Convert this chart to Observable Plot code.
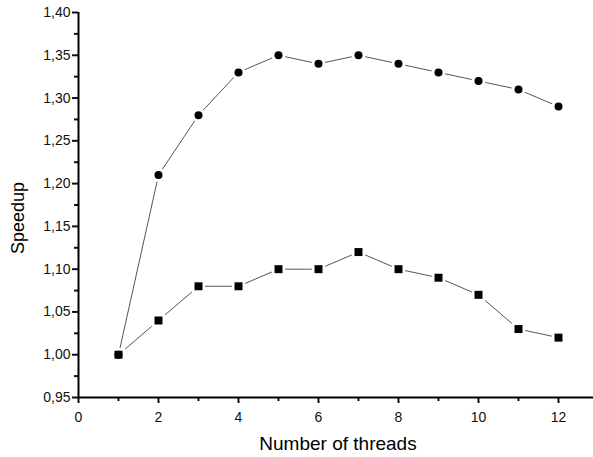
<!DOCTYPE html>
<html><head><meta charset="utf-8">
<script src="https://cdn.jsdelivr.net/npm/d3@7"></script>
<script src="https://cdn.jsdelivr.net/npm/@observablehq/plot@0.6"></script>
<style>body{margin:0;background:#fff}</style>
</head><body><div id="chart"></div>
<script>
const threads = [1,2,3,4,5,6,7,8,9,10,11,12];
const circleSeries = [1.00,1.21,1.28,1.33,1.35,1.34,1.35,1.34,1.33,1.32,1.31,1.29];
const squareSeries = [1.00,1.04,1.08,1.08,1.10,1.10,1.12,1.10,1.09,1.07,1.03,1.02];
const xMajor = [0,2,4,6,8,10,12];
const xMinor = [1,3,5,7,9,11];
const yMajor = [0.95,1.00,1.05,1.10,1.15,1.20,1.25,1.30,1.35,1.40];
const yMinor = [0.975,1.025,1.075,1.125,1.175,1.225,1.275,1.325,1.375];

const circ = threads.map((t,i)=>({x:t,y:circleSeries[i]}));
const sq = threads.map((t,i)=>({x:t,y:squareSeries[i]}));
const fmt = d => d.toFixed(2).replace(".", ",");

const chart = Plot.plot({
  width: 593, height: 457,
  marginLeft: 78, marginRight: 0, marginTop: 12, marginBottom: 60,
  style: {fontFamily: "Liberation Sans, Arial, sans-serif", fontSize: "14px", color: "#111"},
  x: {domain: [0, 12.875]},
  y: {domain: [0.95, 1.40]},
  marks: [
    Plot.axisX({ticks: xMajor, tickSize: 6, tickPadding: 9, strokeWidth: 2, fontSize: 14, label: null}),
    Plot.axisX({ticks: xMinor, tickSize: 4, text: null, strokeWidth: 2, label: null}),
    Plot.axisY({ticks: yMajor, tickSize: 6, tickPadding: 2, strokeWidth: 2, tickFormat: fmt, fontSize: 14, label: null}),
    Plot.axisY({ticks: yMinor, tickSize: 4, text: null, strokeWidth: 2, label: null}),
    Plot.ruleX([0], {stroke: "#000", strokeWidth: 2}),
    Plot.ruleY([0.95], {stroke: "#000", strokeWidth: 2}),
    Plot.line(circ, {x: "x", y: "y", stroke: "#555", strokeWidth: 1}),
    Plot.line(sq, {x: "x", y: "y", stroke: "#555", strokeWidth: 1}),
    Plot.dot(circ, {x: "x", y: "y", r: 7, fill: "#fff", stroke: "none"}),
    Plot.dot(sq, {x: "x", y: "y", symbol: "square", r: 7.5, fill: "#fff", stroke: "none"}),
    Plot.dot(circ, {x: "x", y: "y", r: 4, fill: "#000", stroke: "none"}),
    Plot.dot(sq, {x: "x", y: "y", symbol: "square", r: 4.5, fill: "#000", stroke: "none"}),
    Plot.text(["Number of threads"], {frameAnchor: "bottom", dx: 2, dy: 52, fontSize: 19, fill: "#000"}),
    Plot.text(["Speedup"], {frameAnchor: "left", textAnchor: "middle", dx: -60, dy: 13, rotate: -90, fontSize: 18, fill: "#000"})
  ]
});
document.getElementById("chart").appendChild(chart);
</script></body></html>
